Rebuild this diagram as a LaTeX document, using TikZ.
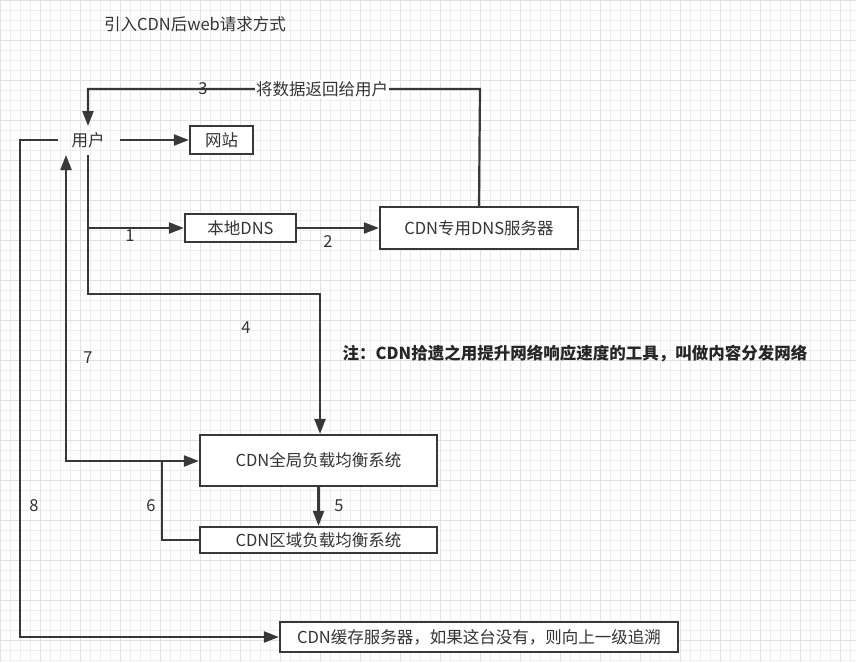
\documentclass[tikz,border=0pt]{standalone}
\usepackage{fontspec}
\setmainfont{Noto Sans CJK SC}
\usetikzlibrary{arrows.meta}
\begin{document}
\begin{tikzpicture}[x=1pt,y=-1pt,
  ln/.style={draw=black!78,line width=2.2pt},
  ar/.style={ln,-{Triangle[length=15pt,width=11pt]}},
  bx/.style={draw=black!78,line width=2.2pt,fill=white,inner sep=0pt,font=\fontsize{16.5}{16.5}\selectfont,text=black!80},
  tx/.style={font=\fontsize{16.5}{16.5}\selectfont,text=black!80,inner sep=1pt}]
\fill[white] (0,0) rectangle (856,662);
\useasboundingbox (0,0) rectangle (856,662);
\foreach \i in {0,10,...,850} \draw[black!7,line width=0.5pt] (\i,0) -- (\i,662);
\foreach \i in {0,10,...,660} \draw[black!7,line width=0.5pt] (0,\i) -- (856,\i);
\foreach \i in {0,40,...,850} \draw[black!12,line width=0.6pt] (\i,0) -- (\i,662);
\foreach \i in {0,40,...,660} \draw[black!12,line width=0.6pt] (0,\i) -- (856,\i);
\node[tx] (title) at (195,24) {引入CDN后web请求方式};
\node[tx] (user) at (88,140) {用户};
\node[bx,minimum width=63pt,minimum height=28pt] (web) at (221.5,140) {网站};
\node[bx,minimum width=111pt,minimum height=28pt] (ldns) at (240.5,228) {本地DNS};
\node[bx,minimum width=198pt,minimum height=42pt] (cdns) at (479,228) {CDN专用DNS服务器};
\node[bx,minimum width=237pt,minimum height=51pt] (glb) at (318.5,460.5) {CDN全局负载均衡系统};
\node[bx,minimum width=237pt,minimum height=26pt] (reg) at (318.5,540) {CDN区域负载均衡系统};
\node[bx,minimum width=398pt,minimum height=30pt] (cache) at (479,637) {CDN缓存服务器，如果这台没有，则向上一级追溯};
\coordinate (uR) at (120,140); \coordinate (uL) at (58,140);
\coordinate (uB) at (88,155); \coordinate (uT) at (88,126); \coordinate (u7) at (66,155);
\draw[ar] (uR) -- (web);
\draw[ar] (uL) -- (20,140) -- (20,637) -- (cache.west);
\draw[ar] (uB) -- (88,228) -- (ldns.west);
\draw[ar] (ldns) -- (cdns);
\draw[ar] (cdns.north) -- (480,89) -- (88,89) -- (uT);
\draw[ar] (88,228) -- (88,294) -- (320,294) -- (glb.north -| 320,0);
\draw[ar] (glb.south) -- (reg.north);
\draw[ar] (reg.west) -- (162,540) -- (162,461) -- (glb.west |- 0,461);
\draw[ar] (162,461) -- (66,461) -- (u7);
\node[tx] (l1) at (130,236) {1};
\node[tx] (l2) at (328,242) {2};
\node[tx] (l3) at (203,89) {3};
\node[tx,fill=white] (l3b) at (322,89) {将数据返回给用户};
\node[tx] (l4) at (246,328) {4};
\node[tx] (l5) at (339,506) {5};
\node[tx] (l6) at (151,506) {6};
\node[tx] (l7) at (88,358) {7};
\node[tx] (l8) at (34,506) {8};
\node[tx,font=\bfseries\fontsize{16.5}{16.5}\selectfont,text=black!85] (note) at (575,354) {注：CDN拾遗之用提升网络响应速度的工具，叫做内容分发网络};
\end{tikzpicture}
\end{document}
